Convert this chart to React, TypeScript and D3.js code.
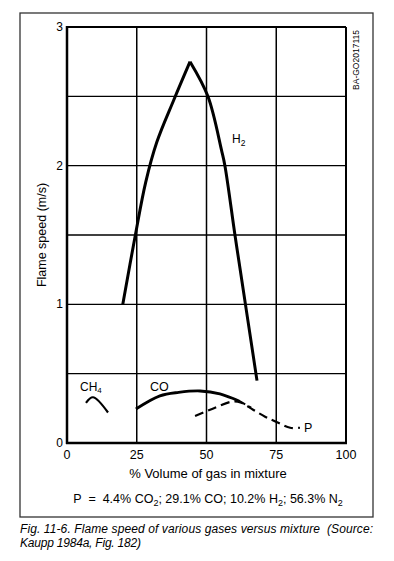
import React from "react";
import * as d3 from "d3";

const xTicks = [0, 25, 50, 75, 100];
const yTicks = [0, 1, 2, 3];
const yGrid = [0.5, 1, 1.5, 2, 2.5];
const xGrid = [25, 50, 75];

const h2Rise: [number, number][] = [[20, 1.0], [24.5, 1.5], [28.2, 1.88], [32.2, 2.17], [38.2, 2.47], [44.1, 2.75]];
const h2Fall: [number, number][] = [[44.1, 2.75], [50.5, 2.5], [55.4, 2.11], [56.6, 2.0], [60.2, 1.5], [62, 1.26], [68.1, 0.45]];
const ch4: [number, number][] = [[6.8, 0.29], [9.3, 0.33], [14.7, 0.22]];
const co: [number, number][] = [[24.7, 0.245], [33.3, 0.34], [40, 0.365], [47.7, 0.375], [54.8, 0.355], [62, 0.3]];
const coTail: [number, number][] = [[62, 0.3], [66, 0.255]];
const pGas: [number, number][] = [[45.9, 0.195], [52, 0.245], [59.5, 0.3], [62.5, 0.29], [66.7, 0.24], [71, 0.19], [75.3, 0.15], [80, 0.11], [83.5, 0.11]];

const NB = "\u00a0";

export default function App() {
  const x = d3.scaleLinear().domain([0, 100]).range([67, 346]);
  const y = d3.scaleLinear().domain([0, 3]).range([443, 27]);
  const lineC = d3.line<[number, number]>().x(d => x(d[0])).y(d => y(d[1])).curve(d3.curveCatmullRom);
  const font = "'Liberation Sans', Arial, sans-serif";
  return (
    <div style={{ position: "absolute", left: 0, top: 0 }}>
      <svg width={394} height={561} style={{ display: "block", background: "#fff" }} fontFamily={font}>
        <rect x={20} y={13} width={353} height={504} fill="none" stroke="#333" strokeWidth={1.3} />
        {xGrid.map(v => (
          <line key={"xg" + v} x1={x(v)} x2={x(v)} y1={y(0)} y2={y(3)} stroke="#000" strokeWidth={1.5} />
        ))}
        {yGrid.map(v => (
          <line key={"yg" + v} x1={x(0)} x2={x(100)} y1={y(v)} y2={y(v)} stroke="#000" strokeWidth={1.3} />
        ))}
        <line x1={x(0)} x2={x(100)} y1={y(3)} y2={y(3)} stroke="#000" strokeWidth={2} />
        <line x1={x(100)} x2={x(100)} y1={y(0)} y2={y(3)} stroke="#000" strokeWidth={2} />
        <line x1={x(0)} x2={x(0)} y1={y(0) + 1} y2={y(3) - 1} stroke="#000" strokeWidth={2.5} />
        <line x1={x(0) - 1} x2={x(100) + 1} y1={y(0)} y2={y(0)} stroke="#000" strokeWidth={2.5} />
        {yTicks.map(v => (
          <text key={"yt" + v} x={63} y={y(v) + 4} textAnchor="end" fontSize={12}>{v}</text>
        ))}
        {xTicks.map(v => (
          <text key={"xt" + v} x={x(v)} y={y(0) + 16} textAnchor="middle" fontSize={12.5}>{v}</text>
        ))}
        <text transform="translate(46,235) rotate(-90)" textAnchor="middle" fontSize={12.5}>Flame speed (m/s)</text>
        <text x={208} y={478} textAnchor="middle" fontSize={13}>% Volume of gas in mixture</text>
        <text x={208} y={503} textAnchor="middle" fontSize={12.5}>
          {`P${NB}${NB}=${NB}${NB}4.4% CO`}<tspan fontSize={9} dy={3}>2</tspan><tspan dy={-3}>{"; 29.1% CO; 10.2% H"}</tspan><tspan fontSize={9} dy={3}>2</tspan><tspan dy={-3}>{"; 56.3% N"}</tspan><tspan fontSize={9} dy={3}>2</tspan>
        </text>
        <text transform="translate(359,60) rotate(-90)" textAnchor="middle" fontSize={8.5}>BA-GO2017115</text>
        <path d={lineC(h2Rise) ?? ""} fill="none" stroke="#000" strokeWidth={3} />
        <path d={lineC(h2Fall) ?? ""} fill="none" stroke="#000" strokeWidth={3} />
        <path d={lineC(ch4) ?? ""} fill="none" stroke="#000" strokeWidth={2.2} />
        <path d={lineC(co) ?? ""} fill="none" stroke="#000" strokeWidth={2.8} />
        <path d={lineC(coTail) ?? ""} fill="none" stroke="#000" strokeWidth={2} strokeDasharray="6,4" />
        <path d={lineC(pGas) ?? ""} fill="none" stroke="#000" strokeWidth={2.2} strokeDasharray="9,5" />
        <text x={232} y={143} fontSize={12}>H<tspan fontSize={8.5} dy={3}>2</tspan></text>
        <text x={80} y={391} fontSize={12}>CH<tspan fontSize={8} dy={2}>4</tspan></text>
        <text x={150} y={391} fontSize={12.5}>CO</text>
        <text x={304} y={432} fontSize={12.5}>P</text>
        <text x={20} y={533} fontSize={12} fontStyle="italic" textLength={353} lengthAdjust="spacing">{`Fig. 11-6. Flame speed of various gases versus mixture${NB}${NB}(Source:`}</text>
        <text x={20} y={547} fontSize={12} fontStyle="italic" textLength={121} lengthAdjust="spacing">Kaupp 1984a, Fig. 182)</text>
      </svg>
    </div>
  );
}
